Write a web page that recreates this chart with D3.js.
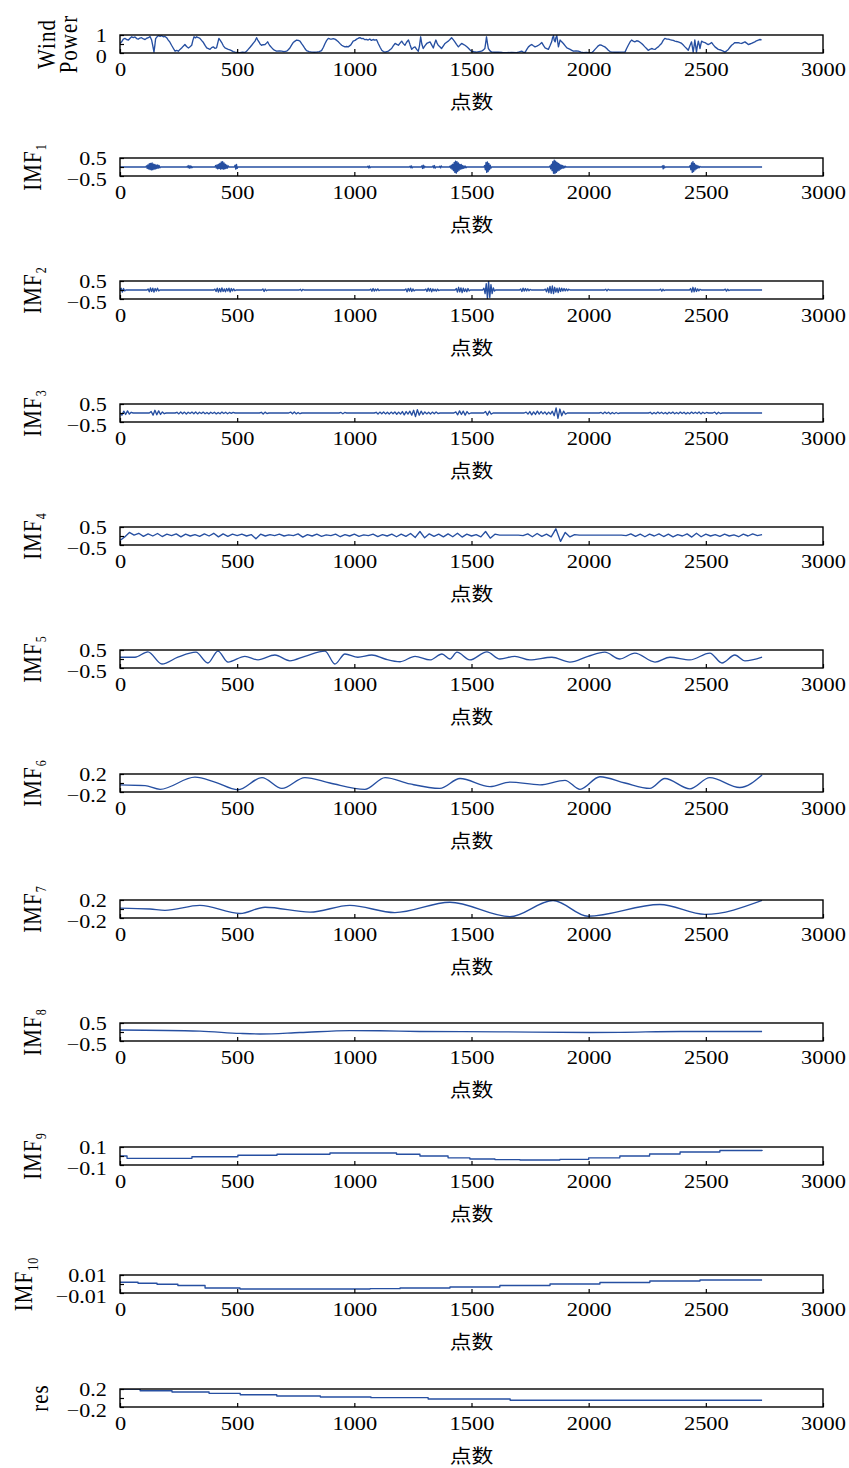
<!DOCTYPE html>
<html>
<head>
<meta charset="utf-8">
<script src="https://cdn.jsdelivr.net/npm/d3@7"></script>
<style>
  body { margin: 0; background: #fff; }
</style>
</head>
<body>
<svg id="chart" width="849" height="1468"></svg>
<script>
// ---- data ----
const nPoints = 2740;
const xTicks = [0, 500, 1000, 1500, 2000, 2500, 3000];
const xLabel = "点数";

// wind power, [point, value]
const windPower = [[0,0.53],[7,0.62],[14,0.77],[21,0.81],[28,0.75],[36,0.72],[43,0.82],[50,0.9],[57,0.86],[64,0.89],[71,0.8],[78,0.77],[85,0.83],[92,0.85],[100,0.78],[107,0.75],[114,0.82],[121,0.85],[128,0.92],[135,0.72],[140,0.4],[145,0.05],[149,0.45],[152,0.8],[158,0.9],[164,0.96],[171,0.93],[178,0.96],[185,0.9],[192,0.92],[199,0.85],[206,0.72],[213,0.6],[220,0.43],[228,0.25],[235,0.1],[242,0.14],[249,0.1],[256,0.2],[263,0.28],[270,0.38],[277,0.47],[284,0.36],[292,0.28],[299,0.35],[306,0.43],[311,0.7],[316,0.9],[322,0.84],[327,0.9],[334,0.86],[341,0.81],[348,0.7],[356,0.58],[363,0.42],[370,0.28],[377,0.24],[384,0.2],[391,0.3],[398,0.34],[405,0.26],[412,0.28],[417,0.55],[422,0.81],[428,0.7],[434,0.58],[441,0.4],[448,0.28],[455,0.24],[462,0.2],[469,0.17],[476,0.13],[483,0.08],[491,0.05],[500,0.03],[512,0.02],[522,0.04],[533,0.03],[540,0.1],[547,0.2],[555,0.32],[562,0.43],[569,0.55],[576,0.66],[583,0.85],[588,0.72],[593,0.62],[598,0.5],[604,0.43],[611,0.46],[619,0.47],[625,0.55],[630,0.62],[635,0.5],[640,0.4],[647,0.3],[654,0.2],[661,0.14],[668,0.1],[680,0.12],[690,0.1],[700,0.08],[711,0.1],[718,0.18],[725,0.28],[732,0.44],[739,0.58],[747,0.66],[754,0.72],[761,0.7],[768,0.66],[775,0.52],[782,0.4],[789,0.25],[796,0.13],[807,0.08],[818,0.05],[829,0.04],[839,0.05],[850,0.08],[860,0.13],[868,0.32],[875,0.53],[882,0.7],[889,0.81],[896,0.78],[903,0.77],[910,0.8],[917,0.77],[925,0.7],[932,0.62],[939,0.52],[946,0.43],[953,0.38],[960,0.34],[967,0.36],[974,0.34],[985,0.45],[995,0.66],[1003,0.7],[1010,0.77],[1017,0.82],[1024,0.85],[1031,0.8],[1038,0.81],[1045,0.74],[1052,0.76],[1059,0.72],[1066,0.78],[1073,0.7],[1080,0.75],[1088,0.71],[1095,0.74],[1102,0.53],[1110,0.32],[1117,0.15],[1124,0.08],[1131,0.05],[1138,0.08],[1145,0.1],[1152,0.18],[1159,0.25],[1166,0.4],[1174,0.53],[1181,0.48],[1188,0.43],[1195,0.55],[1202,0.66],[1209,0.52],[1216,0.43],[1223,0.6],[1231,0.72],[1238,0.45],[1245,0.2],[1252,0.3],[1259,0.34],[1266,0.2],[1273,0.1],[1278,0.4],[1283,0.9],[1288,0.5],[1294,0.25],[1301,0.4],[1309,0.53],[1316,0.58],[1323,0.62],[1330,0.45],[1337,0.28],[1342,0.5],[1348,0.72],[1353,0.55],[1358,0.43],[1365,0.35],[1372,0.25],[1380,0.4],[1387,0.53],[1394,0.6],[1401,0.66],[1408,0.75],[1415,0.85],[1422,0.74],[1429,0.62],[1436,0.48],[1444,0.34],[1451,0.44],[1458,0.53],[1465,0.48],[1472,0.43],[1479,0.36],[1486,0.28],[1493,0.18],[1500,0.1],[1511,0.07],[1522,0.05],[1532,0.08],[1543,0.1],[1550,0.16],[1557,0.25],[1561,0.6],[1564,0.9],[1568,0.55],[1572,0.25],[1579,0.12],[1586,0.05],[1600,0.04],[1614,0.05],[1632,0.03],[1650,0.02],[1671,0.03],[1693,0.02],[1704,0.06],[1714,0.1],[1721,0.05],[1728,0.02],[1736,0.2],[1743,0.34],[1750,0.42],[1757,0.47],[1764,0.4],[1771,0.34],[1779,0.38],[1786,0.43],[1793,0.5],[1800,0.58],[1807,0.42],[1814,0.28],[1821,0.24],[1828,0.2],[1835,0.4],[1842,0.62],[1846,0.85],[1850,0.96],[1853,0.7],[1857,0.62],[1860,0.85],[1864,0.96],[1868,0.6],[1871,0.34],[1875,0.55],[1878,0.72],[1885,0.62],[1892,0.53],[1900,0.4],[1907,0.28],[1914,0.24],[1921,0.2],[1928,0.15],[1935,0.1],[1946,0.12],[1956,0.1],[1967,0.05],[1978,0.02],[1990,0.03],[2000,0.02],[2013,0.02],[2020,0.1],[2027,0.2],[2034,0.3],[2041,0.4],[2048,0.45],[2055,0.43],[2062,0.38],[2069,0.34],[2077,0.25],[2084,0.15],[2091,0.08],[2098,0.05],[2112,0.04],[2126,0.04],[2140,0.05],[2155,0.05],[2162,0.25],[2169,0.43],[2176,0.6],[2183,0.72],[2190,0.66],[2197,0.62],[2205,0.68],[2212,0.66],[2219,0.6],[2226,0.53],[2233,0.44],[2240,0.34],[2247,0.25],[2254,0.15],[2261,0.2],[2269,0.25],[2276,0.22],[2283,0.2],[2290,0.28],[2297,0.34],[2304,0.44],[2311,0.53],[2318,0.7],[2325,0.81],[2332,0.78],[2340,0.77],[2347,0.74],[2354,0.72],[2361,0.7],[2368,0.66],[2375,0.64],[2382,0.62],[2390,0.58],[2397,0.53],[2404,0.44],[2411,0.34],[2418,0.25],[2425,0.15],[2432,0.4],[2439,0.62],[2443,0.3],[2446,0.05],[2450,0.4],[2453,0.72],[2457,0.35],[2460,0.05],[2464,0.4],[2468,0.66],[2472,0.45],[2475,0.25],[2479,0.5],[2482,0.66],[2489,0.6],[2496,0.58],[2503,0.52],[2510,0.47],[2518,0.52],[2525,0.58],[2532,0.45],[2539,0.34],[2546,0.27],[2553,0.2],[2560,0.18],[2567,0.15],[2574,0.1],[2581,0.05],[2589,0.12],[2596,0.2],[2603,0.32],[2610,0.43],[2617,0.5],[2624,0.58],[2631,0.57],[2638,0.58],[2645,0.55],[2653,0.53],[2660,0.58],[2667,0.62],[2674,0.55],[2681,0.47],[2688,0.5],[2695,0.53],[2702,0.58],[2709,0.62],[2716,0.68],[2724,0.72],[2731,0.75],[2738,0.73]];

// IMF1..IMF3: flat at zero except bursts [start point, values every `step` points]
const imf1Step = 3;
const imf1Bursts = [
  [110, [0.06,-0.08,0.12,-0.1,0.18,-0.14,0.2,-0.16,0.22,-0.15,0.16,-0.12,0.14,-0.1,0.1,-0.08,0.12,-0.06,0.08,-0.05]],
  [285, [0.05,-0.04,0.08,-0.06,0.06,-0.05,0.04,-0.03]],
  [405, [0.08,-0.06,0.12,-0.1,0.15,-0.08,0.2,-0.12,0.28,-0.1,0.3,-0.12,0.22,-0.1,0.15,-0.08,0.1,-0.06,0.06]],
  [488, [0.1,-0.12,0.14,-0.08]],
  [1055, [0.04,-0.05,0.06,-0.04]],
  [1235, [0.05,-0.04,0.06,-0.05]],
  [1285, [0.06,-0.08,0.1,-0.06,0.05]],
  [1333, [0.06,-0.05,0.08,-0.06]],
  [1362, [0.04,-0.05,0.06]],
  [1405, [0.05,-0.06,0.1,-0.12,0.15,-0.2,0.25,-0.3,0.32,-0.34,0.3,-0.25,0.22,-0.18,0.15,-0.12,0.14,-0.1,0.08,-0.07,0.06,-0.05,0.05,-0.04]],
  [1553, [0.08,-0.15,0.25,-0.3,0.28,-0.25,0.2,-0.15,0.1,-0.06]],
  [1832, [0.06,-0.1,0.15,-0.2,0.3,-0.35,0.38,-0.36,0.32,-0.3,0.26,-0.22,0.2,-0.18,0.15,-0.12,0.1,-0.08,0.08,-0.06,0.05,-0.04,0.04]],
  [2312, [0.06,-0.1,0.08,-0.05]],
  [2430, [0.08,-0.15,0.22,-0.3,0.3,-0.25,0.2,-0.16,0.12,-0.1,0.08,-0.06,0.05,-0.04,0.03]]
];

const imf2Step = 5;
const imf2Bursts = [
  [0, [0.1,-0.12,0.08,-0.05]],
  [115, [0.06,-0.1,0.12,-0.08,0.1,-0.12,0.08,-0.06,0.1,-0.05]],
  [400, [0.05,-0.08,0.1,-0.12,0.08,-0.1,0.12,-0.08,0.06,-0.1,0.08,-0.06,0.1,-0.12,0.08,-0.05,0.06,-0.04]],
  [605, [0.06,-0.08,0.05,-0.04]],
  [765, [0.04,-0.05,0.03]],
  [1065, [0.05,-0.07,0.08,-0.06,0.05,-0.04,0.06,-0.03]],
  [1215, [0.06,-0.1,0.08,-0.06,0.1,-0.08,0.06,-0.05]],
  [1300, [0.05,-0.08,0.1,-0.06,0.08,-0.1,0.06,-0.05,0.04,-0.06,0.05,-0.03]],
  [1430, [0.08,-0.12,0.15,-0.1,0.12,-0.15,0.1,-0.08,0.06,-0.1,0.08,-0.05]],
  [1548, [0.1,-0.2,0.35,-0.48,0.5,-0.42,0.3,-0.2,0.12,-0.06]],
  [1705, [0.06,-0.08,0.1,-0.06,0.08,-0.05,0.06,-0.04,0.03]],
  [1810, [0.05,-0.1,0.12,-0.15,0.2,-0.18,0.22,-0.2,0.15,-0.12,0.1,-0.14,0.12,-0.08,0.1,-0.06,0.08,-0.05,0.06,-0.04,0.04]],
  [2068, [0.04,-0.05,0.04]],
  [2302, [0.05,-0.06,0.04,-0.03]],
  [2430, [0.08,-0.12,0.15,-0.1,0.12,-0.08,0.06,-0.05,0.04]],
  [2578, [0.05,-0.06,0.04,-0.03]]
];

const imf3Step = 8;
const imf3Bursts = [
  [0, [-0.12,0.1,-0.08,0.12,-0.06,0.04]],
  [125, [0.08,-0.12,0.15,-0.1,0.12,-0.08,0.06,-0.04]],
  [235, [0.04,-0.05,0.06,-0.04,0.05,-0.06,0.04,-0.03,0.05,-0.04,0.06,-0.05,0.04,-0.03,0.05,-0.04,0.03,-0.05,0.04,-0.03,0.04,-0.05,0.03,-0.04,0.05,-0.03,0.04,-0.04,0.03,-0.02,0.03]],
  [595, [0.04,-0.06,0.05,-0.03]],
  [720, [0.05,-0.04,0.06,-0.05,0.03,-0.04]],
  [935, [0.03,-0.04,0.03]],
  [1085, [0.04,-0.06,0.05,-0.04,0.06,-0.05,0.04,-0.06,0.05,-0.04,0.06,-0.07,0.05,-0.06,0.08,-0.1,0.08,-0.06,0.1,-0.12,0.15,-0.2,0.18,-0.12,0.1,-0.08,0.06,-0.05,0.04,-0.06,0.05,-0.04,0.06,-0.03]],
  [1425, [0.06,-0.1,0.12,-0.08,0.1,-0.12,0.08,-0.05]],
  [1552, [0.08,-0.12,0.1,-0.06]],
  [1725, [0.05,-0.06,0.08,-0.1,0.06,-0.08,0.1,-0.06,0.08,-0.05,0.06,-0.08,0.05,-0.06,0.1,-0.15,0.28,-0.3,0.22,-0.15,0.1,-0.06]],
  [2045, [0.03,-0.04,0.05,-0.03,0.04,-0.05,0.03,-0.04,0.03,-0.03]],
  [2255, [0.04,-0.05,0.03,-0.04,0.05,-0.03,0.04,-0.04,0.03,-0.05,0.04,-0.03,0.05,-0.04,0.03,-0.04,0.05,-0.03,0.04,-0.05,0.03,-0.04,0.05,-0.03,0.04,-0.03,0.06,-0.05,0.04,-0.03,0.03]],
  [2530, [0.05,-0.06,0.04,-0.03]]
];

// IMF4, one value every 20 points
const imf4Step = 20;
const imf4 = [-0.25,-0.05,0.2,0.05,0.15,-0.02,0.12,0.0,0.14,-0.03,0.1,0.02,0.12,-0.05,0.1,0.0,0.08,-0.02,0.12,0.0,
  0.15,-0.05,0.12,-0.02,0.1,0.02,0.1,0.0,0.08,-0.15,0.1,0.0,0.08,0.02,0.1,0.0,0.06,0.02,0.12,-0.06,
  0.08,0.0,0.1,-0.02,0.06,0.02,0.1,-0.04,0.08,0.0,0.1,-0.02,0.06,0.02,0.1,-0.03,0.08,0.0,0.1,-0.04,
  0.1,-0.02,0.14,-0.08,0.25,-0.1,0.12,-0.02,0.1,-0.05,0.12,-0.04,0.15,-0.06,0.1,0.0,0.08,-0.05,0.25,-0.12,
  0.1,0.05,0.05,0.05,0.05,0.05,0.02,0.12,-0.04,0.14,-0.02,0.1,-0.05,0.4,-0.3,0.2,-0.05,0.08,0.05,0.05,
  0.05,0.05,0.05,0.05,0.05,0.05,0.05,0.05,0.02,0.12,-0.02,0.1,-0.04,0.1,0.0,0.12,-0.03,0.1,-0.05,0.08,
  0.0,0.12,-0.06,0.15,-0.04,0.1,0.0,0.08,-0.02,0.1,0.0,0.06,-0.04,0.1,0.0,0.12,0.02,0.08];

// IMF5..IMF8, turning points [point, value]
const imf5 = [[0,0.1],[64,0.1],[119,0.4],[179,-0.28],[247,0.1],[324,0.38],[375,-0.22],[418,0.44],[461,-0.17],[533,0.15],[589,-0.05],[661,0.22],[725,-0.1],[789,0.15],[875,0.44],[917,-0.28],[960,0.28],[1015,0.1],[1075,0.22],[1131,0.0],[1195,-0.15],[1259,0.15],[1323,-0.05],[1374,0.28],[1408,0.0],[1438,0.38],[1493,-0.05],[1566,0.4],[1621,0.0],[1685,0.15],[1749,-0.05],[1843,0.1],[1920,-0.17],[1997,0.15],[2069,0.38],[2133,0.0],[2197,0.33],[2283,-0.17],[2347,0.1],[2432,-0.05],[2517,0.33],[2569,-0.22],[2624,0.22],[2667,-0.1],[2740,0.11]];
const imf6 = [[0,-0.04],[107,-0.06],[171,-0.14],[320,0.13],[405,0.02],[503,-0.15],[606,0.12],[691,-0.12],[789,0.12],[896,0.0],[1045,-0.14],[1131,0.12],[1237,-0.02],[1365,-0.12],[1451,0.1],[1579,-0.08],[1664,0.02],[1792,-0.04],[1899,0.06],[1963,-0.14],[2048,0.14],[2155,0.0],[2261,-0.12],[2325,0.1],[2432,-0.13],[2517,0.12],[2645,-0.1],[2740,0.18]];
const imf7 = [[0,0.02],[128,0.0],[192,-0.03],[341,0.08],[512,-0.1],[619,0.04],[811,-0.07],[981,0.08],[1173,-0.08],[1408,0.15],[1664,-0.17],[1848,0.19],[1997,-0.16],[2304,0.1],[2496,-0.12],[2740,0.19]];
const imf8 = [[0,0.11],[341,0.05],[512,-0.08],[597,-0.11],[768,-0.03],[981,0.08],[1109,0.07],[1280,0.03],[1621,0.01],[2005,-0.03],[2133,-0.02],[2390,0.03],[2740,0.03]];

// IMF9, IMF10, residue: level changes [point, value]
const imf9 = [[0,0.0],[30,-0.026],[307,-0.008],[503,0.008],[670,0.019],[896,0.033],[1180,0.02],[1280,0.0],[1400,-0.02],[1493,-0.033],[1600,-0.04],[1707,-0.044],[1877,-0.038],[2000,-0.02],[2133,0.0],[2260,0.022],[2390,0.044],[2560,0.061],[2740,0.055]];
const imf10 = [[0,0.0019],[77,0.0008],[158,-0.0003],[247,-0.0017],[363,-0.0044],[512,-0.0056],[1067,-0.0052],[1195,-0.0044],[1408,-0.0033],[1621,-0.0017],[1835,0.0],[2048,0.0017],[2261,0.0033],[2475,0.0044],[2740,0.0044]];
const residue = [[0,0.2],[86,0.162],[222,0.133],[380,0.104],[513,0.073],[669,0.044],[855,0.022],[1071,0.007],[1315,-0.022],[1665,-0.051],[2740,-0.051]];

// ---- build series ----
function fromBursts(bursts, step) {
  const pts = [[0, 0]];
  bursts.forEach(([s, vals]) => {
    pts.push([s, 0]);
    vals.forEach((v, i) => pts.push([s + (i + 1) * step, v]));
    pts.push([s + (vals.length + 1) * step, 0]);
  });
  pts.push([nPoints, 0]);
  return pts;
}
const imf4Series = imf4.map((v, i) => [i * imf4Step, v]);

const panels = [
  { label: ["Wind", "Power"], domain: [0, 1], ticks: [0, 0.5, 1], tickText: ["0", "", "1"], data: windPower, top: 35 },
  { label: ["IMF", "1"], domain: [-0.5, 0.5], ticks: [-0.5, 0, 0.5], tickText: ["−0.5", "", "0.5"], data: fromBursts(imf1Bursts, imf1Step), top: 158 },
  { label: ["IMF", "2"], domain: [-0.5, 0.5], ticks: [-0.5, 0, 0.5], tickText: ["−0.5", "", "0.5"], data: fromBursts(imf2Bursts, imf2Step), top: 281 },
  { label: ["IMF", "3"], domain: [-0.5, 0.5], ticks: [-0.5, 0, 0.5], tickText: ["−0.5", "", "0.5"], data: fromBursts(imf3Bursts, imf3Step), top: 404 },
  { label: ["IMF", "4"], domain: [-0.5, 0.5], ticks: [-0.5, 0, 0.5], tickText: ["−0.5", "", "0.5"], data: imf4Series, top: 527 },
  { label: ["IMF", "5"], domain: [-0.5, 0.5], ticks: [-0.5, 0, 0.5], tickText: ["−0.5", "", "0.5"], data: imf5, top: 650, curve: d3.curveMonotoneX },
  { label: ["IMF", "6"], domain: [-0.2, 0.2], ticks: [-0.2, 0, 0.2], tickText: ["−0.2", "", "0.2"], data: imf6, top: 774, curve: d3.curveMonotoneX },
  { label: ["IMF", "7"], domain: [-0.2, 0.2], ticks: [-0.2, 0, 0.2], tickText: ["−0.2", "", "0.2"], data: imf7, top: 900, curve: d3.curveMonotoneX },
  { label: ["IMF", "8"], domain: [-0.5, 0.5], ticks: [-0.5, 0, 0.5], tickText: ["−0.5", "", "0.5"], data: imf8, top: 1023, curve: d3.curveMonotoneX },
  { label: ["IMF", "9"], domain: [-0.1, 0.1], ticks: [-0.1, 0, 0.1], tickText: ["−0.1", "", "0.1"], data: imf9, top: 1147, curve: d3.curveStepAfter },
  { label: ["IMF", "10"], domain: [-0.01, 0.01], ticks: [-0.01, 0, 0.01], tickText: ["−0.01", "", "0.01"], data: imf10, top: 1275, curve: d3.curveStepAfter },
  { label: ["res"], domain: [-0.2, 0.2], ticks: [-0.2, 0, 0.2], tickText: ["−0.2", "", "0.2"], data: residue, top: 1389, curve: d3.curveStepAfter }
];

// ---- drawing ----
const svg = d3.select("#chart");
const plotH = 18;
const SX = 1.15;           // the reference text is a little wide
const serif = "'Liberation Serif', 'DejaVu Serif', serif";
const lineColor = "#264fa1";

const x = d3.scaleLinear().domain([0, 3000]).range([120, 823]);

panels.forEach((p, k) => {
  const top = p.top, bottom = top + plotH;
  const y = d3.scaleLinear().domain(p.domain).range([bottom, top]);
  const g = svg.append("g");

  g.append("clipPath").attr("id", "clip" + k)
    .append("rect").attr("x", x(0)).attr("y", top).attr("width", x(3000) - x(0)).attr("height", plotH);

  const line = d3.line().x(d => x(d[0])).y(d => y(d[1])).curve(p.curve || d3.curveLinear);
  g.append("path")
    .datum(p.data)
    .attr("clip-path", `url(#clip${k})`)
    .attr("fill", "none")
    .attr("stroke", lineColor)
    .attr("stroke-width", 1.35)
    .attr("stroke-linejoin", "round")
    .attr("d", line);

  // x axis (ticks point inward)
  const gx = g.append("g")
    .attr("transform", `translate(0,${bottom})`)
    .call(d3.axisBottom(x).tickValues(xTicks).tickSizeInner(-4).tickSizeOuter(0).tickPadding(9.5).tickFormat(d3.format("d")));
  gx.select(".domain").remove();
  gx.selectAll(".tick line").attr("stroke", "#000").attr("stroke-width", 1.2);
  gx.selectAll(".tick text")
    .attr("font-family", serif).attr("font-size", 19.5).attr("fill", "#000")
    .attr("transform", `scale(${SX},1)`);

  // y axis; the middle tick carries no label
  const gy = g.append("g")
    .attr("transform", `translate(${x(0)},0)`)
    .call(d3.axisLeft(y).tickValues(p.ticks).tickSizeInner(-4).tickSizeOuter(0).tickPadding(11)
      .tickFormat((d, i) => p.tickText[i]));
  gy.select(".domain").remove();
  gy.selectAll(".tick line").attr("stroke", "#000").attr("stroke-width", 1.2);
  gy.selectAll(".tick text").filter(function () { return this.textContent === ""; }).remove();
  // the two labels sit close together: nudge the top one up a little, the bottom one down
  gy.selectAll(".tick text")
    .attr("font-family", serif).attr("font-size", 18.5).attr("fill", "#000")
    .attr("dy", d => d === p.domain[1] ? 6.3 : 9.6)
    .attr("transform", `scale(${SX * 1.04},1)`);

  // frame
  g.append("rect")
    .attr("x", x(0)).attr("y", top)
    .attr("width", x(3000) - x(0)).attr("height", plotH)
    .attr("fill", "none").attr("stroke", "#000").attr("stroke-width", 1.4);

  // x label
  g.append("text")
    .attr("transform", `translate(${(x(0) + x(3000)) / 2},${bottom + 48}) scale(${SX},1)`)
    .attr("text-anchor", "middle")
    .attr("dominant-baseline", "central")
    .attr("font-family", "'Noto Sans CJK SC', sans-serif")
    .attr("font-size", 19)
    .text(xLabel);

  // y label (rotated)
  const cy = top + plotH / 2;
  if (p.label[0] === "Wind") {
    [["Wind", 55], ["Power", 77]].forEach(([t, bx]) => {
      g.append("text")
        .attr("transform", `translate(${bx},${cy}) scale(${SX},1) rotate(-90)`)
        .attr("text-anchor", "middle")
        .attr("font-family", serif).attr("font-size", 21).attr("letter-spacing", 1)
        .text(t);
    });
  } else if (p.label[0] === "IMF") {
    const bx = p.label[1] === "10" ? 32 : 40.5;
    const t = g.append("text")
      .attr("transform", `translate(${bx},${cy}) scale(${SX},1) rotate(-90)`)
      .attr("text-anchor", "middle")
      .attr("font-family", serif).attr("font-size", 21).attr("letter-spacing", 1);
    t.append("tspan").text("IMF");
    t.append("tspan").attr("font-size", 12).attr("dy", 5).text(p.label[1]);
  } else {
    g.append("text")
      .attr("transform", `translate(48,${cy}) scale(${SX},1) rotate(-90)`)
      .attr("text-anchor", "middle")
      .attr("font-family", serif).attr("font-size", 21).attr("letter-spacing", 1)
      .text(p.label[0]);
  }
});
</script>
</body>
</html>
